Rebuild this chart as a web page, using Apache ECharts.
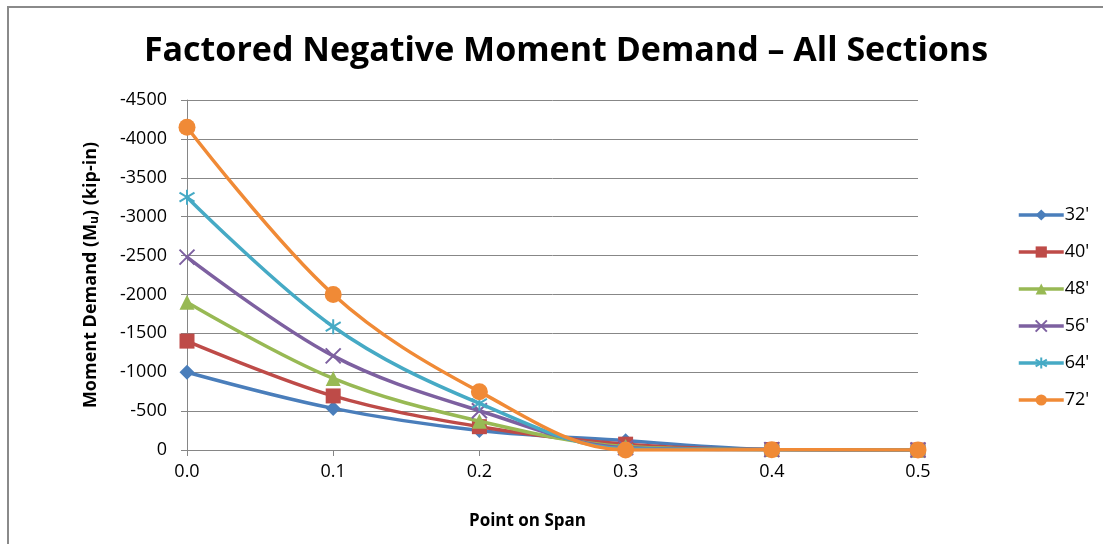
<!DOCTYPE html>
<html>
<head>
<meta charset="utf-8">
<script src="https://cdn.jsdelivr.net/npm/echarts@6/dist/echarts.min.js"></script>
<style>
html,body{margin:0;padding:0;background:#fff;}
#c{width:1103px;height:544px;}
</style>
</head>
<body>
<div id="c"></div>
<script>
const xVals = [0, 0.1, 0.2, 0.3, 0.4, 0.5];
const seriesNames = ["32'", "40'", "48'", "56'", "64'", "72'"];
const s32 = [-1000, -535, -250, -120, -8, 0];
const s40 = [-1400, -695, -300, -75, -6, 0];
const s48 = [-1900, -920, -370, -45, -5, 0];
const s56 = [-2480, -1210, -505, -30, -5, 0];
const s64 = [-3250, -1585, -600, -15, -4, 0];
const s72 = [-4150, -2000, -750, 0, -3, 0];
const yTicks = [-4500, 0, 500];

const colors = ['#4A7EBB', '#BE4B48', '#98B954', '#7D60A0', '#46AAC5', '#F08A36'];
const symbols = [
  'diamond', 'rect', 'triangle',
  'path://M0,0 L10,10 M10,0 L0,10',
  'path://M5,0 L5,10 M0,2 L10,8 M0,8 L10,2',
  'circle'
];
const sizes = [15, 15, 15, 15, 15, 17];
const allData = [s32, s40, s48, s56, s64, s72];

const chart = echarts.init(document.getElementById('c'), null, {renderer: 'canvas'});
const font = "Open Sans, Liberation Sans, sans-serif";

const series = allData.map((d, i) => {
  const isPath = symbols[i].startsWith('path://');
  return {
    name: seriesNames[i],
    type: 'line',
    smooth: 0.35,
    data: d.map((v, k) => [xVals[k], v]),
    symbol: symbols[i],
    symbolSize: sizes[i],
    showAllSymbol: true,
    lineStyle: {color: colors[i], width: 3.5},
    itemStyle: isPath ? {color: colors[i], borderColor: colors[i], borderWidth: 2} : {color: colors[i], borderWidth: 0},
    emphasis: {disabled: true},
    z: 2 + i
  };
});

chart.setOption({
  animation: false,
  backgroundColor: '#fff',
  title: {
    text: 'Factored Negative Moment Demand \u2013 All Sections',
    left: 561, top: 29, textAlign: 'center',
    textStyle: {fontFamily: font, fontWeight: 'bold', fontSize: 34, color: '#000'}
  },
  legend: {
    orient: 'vertical',
    left: 1012, top: 201,
    itemWidth: 45, itemHeight: 14, itemGap: 19,
    lineStyle: {width: 3.5},
    textStyle: {fontFamily: font, fontSize: 18, color: '#000', padding: [0, 0, 0, -4]},
    data: seriesNames
  },
  grid: {left: 187, top: 100, width: 731, height: 350, containLabel: false},
  xAxis: {
    type: 'value', min: 0, max: 0.5, interval: 0.1,
    name: 'Point on Span', nameLocation: 'middle', nameGap: 63,
    nameTextStyle: {fontFamily: font, fontWeight: 'bold', fontSize: 17, color: '#000', padding: [0, 0, 0, -50]},
    axisLine: {show: true, onZero: false, lineStyle: {color: '#868686', width: 1}},
    axisTick: {show: true, inside: false, length: 6, lineStyle: {color: '#868686'}},
    axisLabel: {fontFamily: font, fontSize: 18, color: '#000', margin: 13, formatter: v => v.toFixed(1)},
    splitLine: {show: false}
  },
  yAxis: {
    type: 'value', inverse: true, min: yTicks[0], max: yTicks[1], interval: yTicks[2],
    name: '{a|Moment Demand (M}{s|u}{a|) (kip-in)}', nameLocation: 'middle', nameGap: 86, nameRotate: 90,
    nameTextStyle: {rich: {
      a: {fontFamily: font, fontWeight: 'bold', fontSize: 18, color: '#000'},
      s: {fontFamily: font, fontWeight: 'bold', fontSize: 12, color: '#000', verticalAlign: 'bottom', padding: [9, 0, 0, 0]}
    }},
    axisLine: {show: true, onZero: false, lineStyle: {color: '#868686', width: 1}},
    axisTick: {show: true, inside: false, length: 6, lineStyle: {color: '#868686'}},
    axisLabel: {fontFamily: font, fontSize: 18, color: '#000', margin: 20, formatter: v => String(v)},
    splitLine: {show: true, lineStyle: {color: '#878787', width: 1}}
  },
  graphic: [{
    type: 'polyline', silent: true,
    shape: {points: [[8, 544], [8, 7], [1103, 7]]},
    style: {stroke: '#8a8a8a', lineWidth: 2, fill: null}
  }],
  series: series
});
</script>
</body>
</html>
